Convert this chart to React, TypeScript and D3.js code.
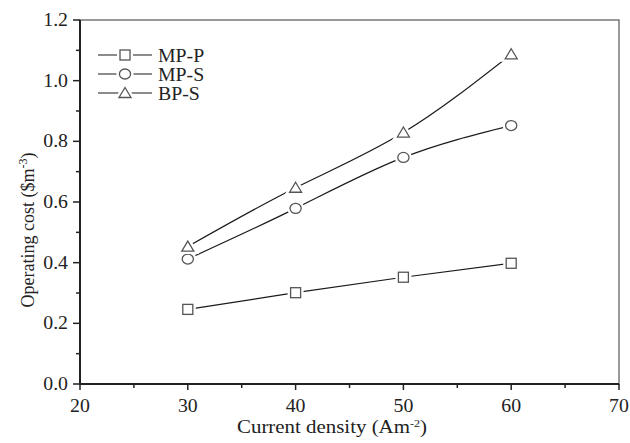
import React from "react";
import * as d3 from "d3";

const currentDensity = [30, 40, 50, 60];
const mpP = [0.246, 0.301, 0.352, 0.398];
const mpS = [0.412, 0.579, 0.747, 0.852];
const bpS = [0.453, 0.647, 0.829, 1.087];
const seriesNames = ["MP-P", "MP-S", "BP-S"];
const xTicks = [20, 30, 40, 50, 60, 70];
const yTicks = [0, 0.2, 0.4, 0.6, 0.8, 1.0, 1.2];

const W = 630, H = 443;
const L = 80, R = 619, T = 20, B = 384;
const FONT = "'Liberation Serif', 'Times New Roman', serif";
const LINE = "#1a1a1a";
const MARK = "#555";
const SX = 1.1;

function Marker({ kind, x, y }: { kind: string; x: number; y: number }) {
  const halo = { fill: "#fff", stroke: "#fff", strokeWidth: 6 };
  const main = { fill: "#fff", stroke: MARK, strokeWidth: 1.3 };
  if (kind === "square") {
    const s = 10;
    return (
      <g>
        <rect x={x - s / 2} y={y - s / 2} width={s} height={s} {...halo} />
        <rect x={x - s / 2} y={y - s / 2} width={s} height={s} {...main} />
      </g>
    );
  }
  if (kind === "circle") {
    return (
      <g>
        <ellipse cx={x} cy={y} rx={5.6} ry={5} {...halo} />
        <ellipse cx={x} cy={y} rx={5.6} ry={5} {...main} />
      </g>
    );
  }
  const d = `M${x},${y - 5.5}L${x + 6},${y + 4.5}L${x - 6},${y + 4.5}Z`;
  return (
    <g>
      <path d={d} {...halo} />
      <path d={d} {...main} />
    </g>
  );
}

function Txt({ x, y, anchor = "start", size = 18, children }: any) {
  return (
    <text
      transform={`translate(${x},${y}) scale(${SX},1)`}
      textAnchor={anchor}
      fontFamily={FONT}
      fontSize={size}
      fill="#222"
    >
      {children}
    </text>
  );
}

export default function App() {
  const x = d3.scaleLinear().domain([20, 70]).range([L, R]);
  const y = d3.scaleLinear().domain([0, 1.2]).range([B, T]);
  const series = [
    { name: seriesNames[0], vals: mpP, kind: "square" },
    { name: seriesNames[1], vals: mpS, kind: "circle" },
    { name: seriesNames[2], vals: bpS, kind: "triangle" },
  ];
  const line = d3
    .line<[number, number]>()
    .x((d) => x(d[0]))
    .y((d) => y(d[1]))
    .curve(d3.curveNatural);

  const xMinor = d3.range(25, 70, 10);
  const yMinor = d3.range(0.1, 1.2, 0.2);

  return (
    <svg width={W} height={H} style={{ position: "absolute", left: 0, top: 0 }}>
      <rect width={W} height={H} fill="#fff" />
      {series.map((s) => (
        <path
          key={s.name}
          d={line(currentDensity.map((c, i) => [c, s.vals[i]]) as [number, number][]) || ""}
          fill="none"
          stroke={LINE}
          strokeWidth={1.2}
        />
      ))}
      {series.map((s) =>
        currentDensity.map((c, i) => (
          <Marker key={s.name + c} kind={s.kind} x={x(c)} y={y(s.vals[i])} />
        ))
      )}
      {/* frame */}
      <rect x={L} y={T} width={R - L} height={B - T} fill="none" stroke="#555" strokeWidth={1.2} />
      <line x1={L} x2={L} y1={T} y2={B + 1} stroke="#222" strokeWidth={2} />
      <line x1={L - 1} x2={R} y1={B} y2={B} stroke="#222" strokeWidth={2} />
      {/* x ticks */}
      {xTicks.map((t) => (
        <g key={"xt" + t}>
          <line x1={x(t)} x2={x(t)} y1={B} y2={B + 6} stroke="#222" strokeWidth={1.5} />
          <Txt x={x(t)} y={B + 28} anchor="middle">{t}</Txt>
        </g>
      ))}
      {xMinor.map((t) => (
        <line key={"xm" + t} x1={x(t)} x2={x(t)} y1={B} y2={B + 4} stroke="#222" strokeWidth={1.5} />
      ))}
      {/* y ticks */}
      {yTicks.map((t) => (
        <g key={"yt" + t}>
          <line x1={L - 7} x2={L} y1={y(t)} y2={y(t)} stroke="#222" strokeWidth={1.5} />
          <Txt x={L - 12} y={y(t) + 6} anchor="end">{t.toFixed(1)}</Txt>
        </g>
      ))}
      {yMinor.map((t) => (
        <line key={"ym" + t} x1={L - 4} x2={L} y1={y(t)} y2={y(t)} stroke="#222" strokeWidth={1.5} />
      ))}
      {/* axis titles */}
      <Txt x={332} y={433} anchor="middle" size={19}>
        Current density (Am
        <tspan dy={-6} fontSize={11}>-2</tspan>
        <tspan dy={6}>)</tspan>
      </Txt>
      <text
        transform={`translate(34,230) rotate(-90)`}
        textAnchor="middle"
        fontFamily={FONT}
        fontSize={18}
        fill="#222"
      >
        Operating cost ($m
        <tspan dy={-7} fontSize={12}>-3</tspan>
        <tspan dy={7}>)</tspan>
      </text>
      {/* legend */}
      {series.map((s, i) => {
        const ly = 55 + i * 19;
        return (
          <g key={"lg" + s.name}>
            <line x1={98} x2={152} y1={ly} y2={ly} stroke={LINE} strokeWidth={1.2} />
            <Marker kind={s.kind} x={125} y={ly} />
            <Txt x={158} y={ly + 7}>{s.name}</Txt>
          </g>
        );
      })}
    </svg>
  );
}
